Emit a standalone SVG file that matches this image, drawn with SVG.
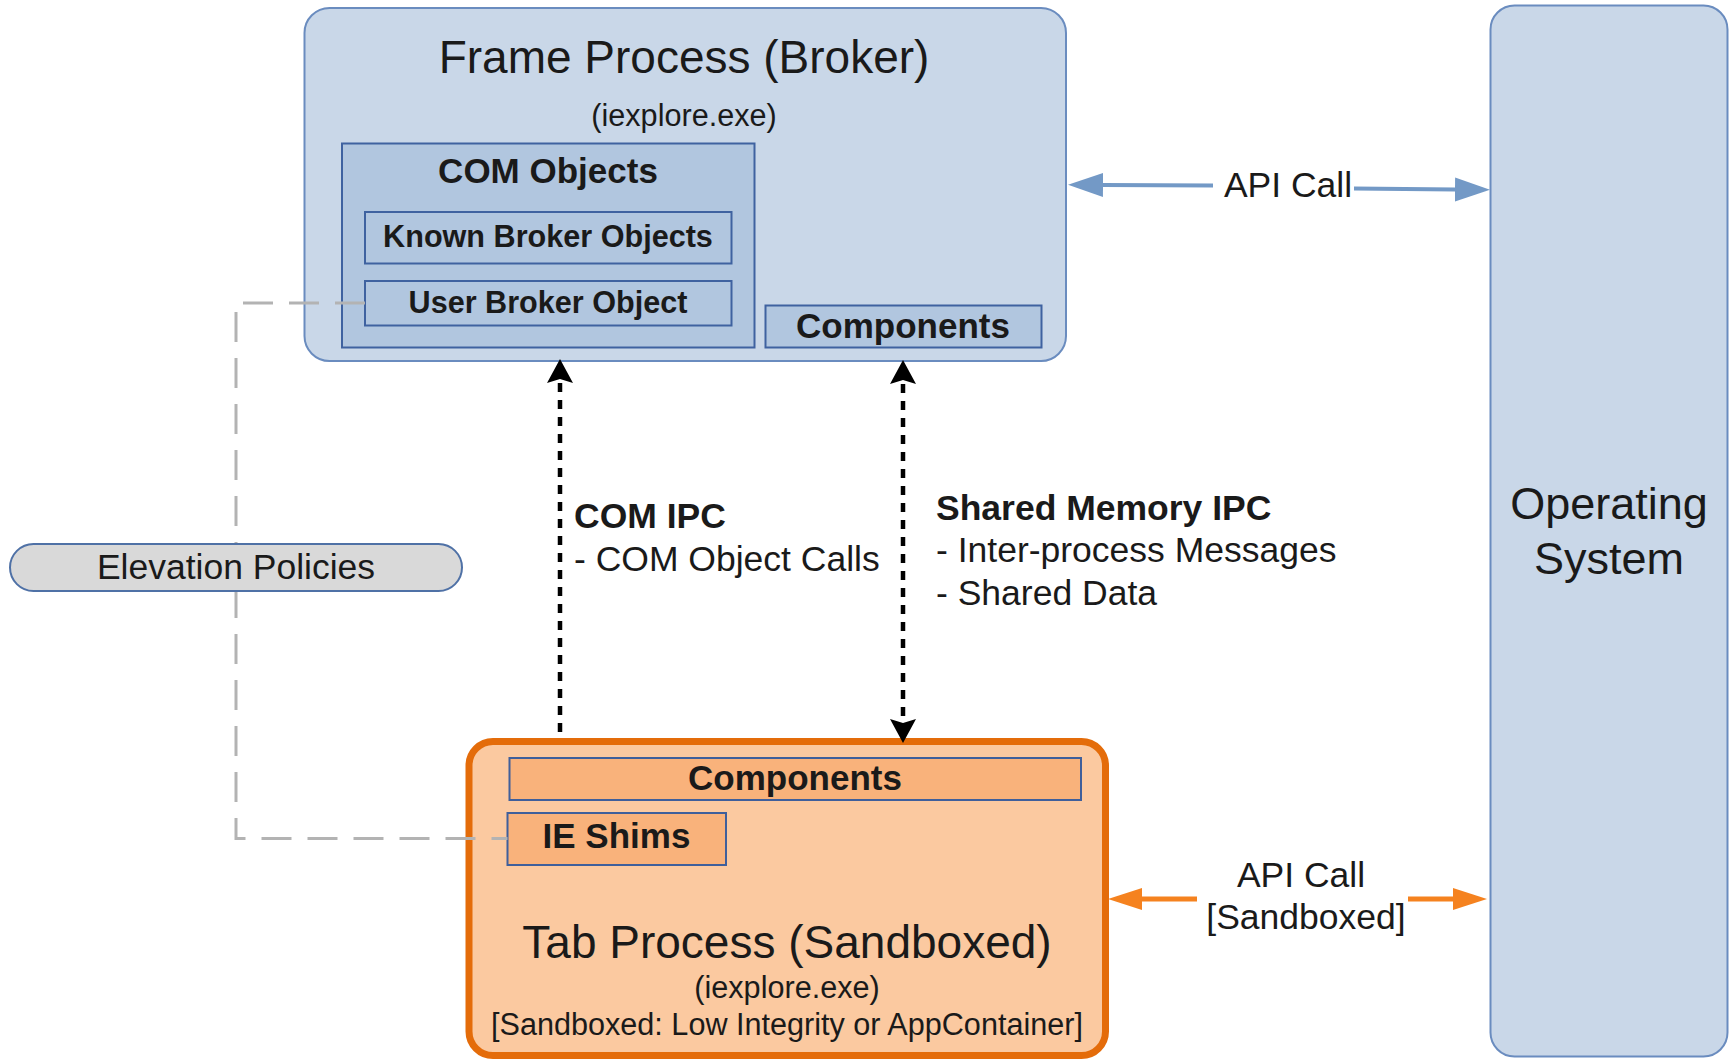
<svg xmlns="http://www.w3.org/2000/svg" width="1730" height="1059" viewBox="0 0 1730 1059">
  <defs>
    <style>
      text { font-family: "Liberation Sans", Arial, sans-serif; fill: #1a1a1a; }
      .b { font-weight: bold; }
      .c { text-anchor: middle; }
      .blueBox { fill: #c9d7e8; stroke: #6a8cbf; stroke-width: 2; }
      .inner { fill: #b1c6df; stroke: #3f62a0; stroke-width: 2; }
      .tab { fill: #fbc9a0; stroke: #e46c0a; stroke-width: 7; }
      .tabInner { fill: #f9b27b; stroke: #3f5f9b; stroke-width: 2; }
      .pill { fill: #d9d9d9; stroke: #4f71a6; stroke-width: 2; }
      .blueArrow { stroke: #7399c6; stroke-width: 4; fill: none; }
      .orangeArrow { stroke: #f5821f; stroke-width: 5; fill: none; }
      .dotted { stroke: #000; stroke-width: 4.5; stroke-dasharray: 9 8; fill: none; }
      .dashed { stroke: #b3b3b3; stroke-width: 3; stroke-dasharray: 30 16; fill: none; }
      .m { font-size: 35.5px; }
      .s { font-size: 30.6px; }
    </style>
    <marker id="mBlue" markerUnits="userSpaceOnUse" markerWidth="36" markerHeight="26" refX="0" refY="12.5" orient="auto-start-reverse">
      <path d="M0,0.5 L35,12.5 L0,24.5 z" fill="#7399c6"/>
    </marker>
    <marker id="mOrange" markerUnits="userSpaceOnUse" markerWidth="36" markerHeight="24" refX="0" refY="11.5" orient="auto-start-reverse">
      <path d="M0,0.5 L34,11.5 L0,22.5 z" fill="#f5821f"/>
    </marker>
    <marker id="mBlack" markerUnits="userSpaceOnUse" markerWidth="26" markerHeight="28" refX="0" refY="13.5" orient="auto-start-reverse">
      <path d="M0,0.5 L24,13.5 L0,26.5 L4,13.5 z" fill="#000"/>
    </marker>
  </defs>

  <rect width="1730" height="1059" fill="#ffffff"/>

  <g id="frame-process">
    <rect class="blueBox" x="304.5" y="8" width="761.5" height="353" rx="25"/>
    <text class="c" x="684" y="73" font-size="46">Frame Process (Broker)</text>
    <text class="c s" x="684" y="126">(iexplore.exe)</text>
  </g>

  <g id="com-objects">
    <rect class="inner" x="342" y="143.5" width="412.5" height="204"/>
    <text class="c b" x="548" y="183" font-size="35">COM Objects</text>
  </g>

  <g id="known-broker-objects">
    <rect class="inner" x="365" y="212" width="366.5" height="51.5"/>
    <text class="c b s" x="548" y="247">Known Broker Objects</text>
  </g>

  <g id="user-broker-object">
    <rect class="inner" x="365" y="281" width="366.5" height="44.5"/>
    <text class="c b s" x="548" y="313">User Broker Object</text>
  </g>

  <g id="frame-components">
    <rect class="inner" x="765.5" y="305.5" width="276" height="42"/>
    <text class="c b" x="903" y="337.5" font-size="35">Components</text>
  </g>

  <g id="operating-system">
    <rect class="blueBox" x="1490.5" y="5.5" width="237" height="1051" rx="24" stroke="#5877a9" stroke-width="2.5"/>
    <text class="c" x="1609" y="519" font-size="45">Operating</text>
    <text class="c" x="1609" y="574" font-size="45">System</text>
  </g>

  <g id="tab-process">
    <rect class="tab" x="469" y="741.5" width="636.5" height="314" rx="24"/>
    <text class="c" x="787" y="958" font-size="46">Tab Process (Sandboxed)</text>
    <text class="c s" x="787" y="998">(iexplore.exe)</text>
    <text class="c s" x="787" y="1035">[Sandboxed: Low Integrity or AppContainer]</text>
  </g>

  <g id="tab-components">
    <rect class="tabInner" x="509.5" y="758" width="571.5" height="42"/>
    <text class="c b" x="795" y="790" font-size="35">Components</text>
  </g>

  <g id="ie-shims">
    <rect class="tabInner" x="507.5" y="813" width="218.5" height="52"/>
    <text class="c b" x="616.5" y="848" font-size="35">IE Shims</text>
  </g>

  <g id="connectors">
    <path class="dashed" d="M365,303 H236 V838.5 H507.5"/>
    <line class="blueArrow" x1="1103" y1="185" x2="1213" y2="185.5" marker-start="url(#mBlue)"/>
    <line class="blueArrow" x1="1354" y1="188.5" x2="1455" y2="189.5" marker-end="url(#mBlue)"/>
    <text class="c m" x="1288" y="197">API Call</text>
    <line class="orangeArrow" x1="1142" y1="899" x2="1197" y2="899" marker-start="url(#mOrange)"/>
    <line class="orangeArrow" x1="1408" y1="899" x2="1453" y2="899" marker-end="url(#mOrange)"/>
    <text class="c m" x="1301" y="887">API Call</text>
    <text class="c m" x="1306" y="929">[Sandboxed]</text>
    <line class="dotted" x1="560" y1="383" x2="560" y2="738" marker-start="url(#mBlack)"/>
    <line class="dotted" x1="903" y1="384" x2="903" y2="719" marker-start="url(#mBlack)" marker-end="url(#mBlack)"/>
    <text class="b m" x="574" y="528">COM IPC</text>
    <text class="m" x="574" y="570.5">- COM Object Calls</text>
    <text class="b m" x="936" y="519.5">Shared Memory IPC</text>
    <text class="m" x="936" y="561.5">- Inter-process Messages</text>
    <text class="m" x="936" y="604.5">- Shared Data</text>
  </g>

  <g id="elevation-policies">
    <rect class="pill" x="10" y="544" width="452" height="47" rx="23.5"/>
    <text class="c m" x="236" y="579">Elevation Policies</text>
  </g>
</svg>
